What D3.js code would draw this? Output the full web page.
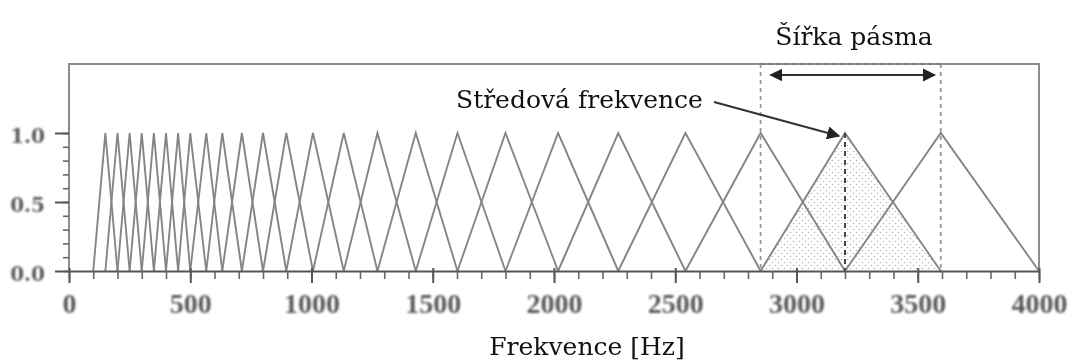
<!DOCTYPE html>
<html>
<head>
<meta charset="utf-8">
<script src="https://cdn.jsdelivr.net/npm/d3@7"></script>
<style>
  html, body { margin: 0; padding: 0; background: #fff; }
  svg { display: block; }
</style>
</head>
<body>
<svg id="chart" width="1069" height="363"></svg>
<script>
// Triangular filter bank: filter k rises from filterEdges[k], peaks at filterEdges[k+1], falls to filterEdges[k+2]
const filterEdges = [100, 150, 200, 250, 300, 350, 400, 450, 500, 566, 632, 713, 800, 896,
                     1006, 1133, 1272, 1430, 1602, 1800, 2017, 2265, 2542, 2852, 3200, 3595, 4000];
const peakGain = 1.0;
const highlightCenter = 3200;          // filter whose band is shaded
const xMajorTicks = [0, 500, 1000, 1500, 2000, 2500, 3000, 3500, 4000];
const yMajorTicks = [0.0, 0.5, 1.0];
const yTickLabels = ["0.0", "0.5", "1.0"];
const xTitle = "Frekvence [Hz]";
const centerLabel = "Středová frekvence";
const bandLabel = "Šířka pásma";

const W = 1069, H = 363;
const margin = { top: 64, right: 30, bottom: 92, left: 69 };
const svg = d3.select("#chart");

const x = d3.scaleLinear().domain([0, 4000]).range([margin.left, W - margin.right]);
const y = d3.scaleLinear().domain([0, 1.5]).range([H - margin.bottom, margin.top]);

const xTickFont = "'Liberation Serif', 'Times New Roman', serif";
const yTickFont = "'DejaVu Serif', serif";
const textFont = "'DejaVu Serif', serif";

const defs = svg.append("defs");
defs.append("filter").attr("id", "soft")
  .append("feGaussianBlur").attr("stdDeviation", 0.55);
defs.append("filter").attr("id", "softer")
  .append("feGaussianBlur").attr("stdDeviation", 0.9);
const pat = defs.append("pattern").attr("id", "stipple")
  .attr("patternUnits", "userSpaceOnUse").attr("width", 6).attr("height", 6);
pat.append("circle").attr("cx", 1.5).attr("cy", 1.5).attr("r", 0.8).attr("fill", "#b8b8b8");
pat.append("circle").attr("cx", 4.5).attr("cy", 4.5).attr("r", 0.8).attr("fill", "#b8b8b8");

const plot = svg.append("g").attr("filter", "url(#soft)");

// filters as triples
const filters = d3.range(filterEdges.length - 2).map(k => ({
  lo: filterEdges[k], c: filterEdges[k + 1], hi: filterEdges[k + 2]
}));
const hl = filters.find(f => f.c === highlightCenter);

// shaded band of the highlighted filter
plot.append("path")
  .attr("d", d3.line()([[x(hl.lo), y(0)], [x(hl.c), y(peakGain)], [x(hl.hi), y(0)]]) + "Z")
  .attr("fill", "url(#stipple)");

// frame (left, top, right)
plot.append("path")
  .attr("d", `M${x(0)},${y(0)}V${y(1.5)}H${x(4000)}V${y(0)}`)
  .attr("fill", "none").attr("stroke", "#8c8c8c").attr("stroke-width", 2);

// triangles
const tri = d3.line().x(d => x(d[0])).y(d => y(d[1]));
plot.selectAll("path.tri").data(filters).join("path")
  .attr("class", "tri")
  .attr("d", f => tri([[f.lo, 0], [f.c, peakGain], [f.hi, 0]]))
  .attr("fill", "none").attr("stroke", "#858585").attr("stroke-width", 1.9)
  .attr("stroke-linejoin", "miter");

// band edges (dashed) and centre line
plot.selectAll("line.edge").data([hl.lo, hl.hi]).join("line")
  .attr("class", "edge")
  .attr("x1", d => x(d)).attr("x2", d => x(d))
  .attr("y1", y(1.5)).attr("y2", y(0))
  .attr("stroke", "#9a9a9a").attr("stroke-width", 1.8).attr("stroke-dasharray", "4,4");
plot.append("line")
  .attr("x1", x(hl.lo)).attr("x2", x(hl.hi))
  .attr("y1", y(1.5)).attr("y2", y(1.5))
  .attr("stroke", "#777").attr("stroke-width", 1.8).attr("stroke-dasharray", "4,4");
plot.append("line")
  .attr("x1", x(hl.c)).attr("x2", x(hl.c))
  .attr("y1", y(peakGain)).attr("y2", y(0))
  .attr("stroke", "#444").attr("stroke-width", 2).attr("stroke-dasharray", "5,4");

// x axis: minor ticks every 100 Hz, major every 500 Hz
const xMinor = d3.axisBottom(x).tickValues(d3.range(0, 4001, 100)).tickSize(8).tickSizeOuter(0).tickFormat("");
const gxm = plot.append("g").attr("transform", `translate(0,${y(0)})`).call(xMinor);
gxm.select(".domain").attr("stroke", "#555").attr("stroke-width", 2);
gxm.selectAll(".tick line").attr("stroke", "#666").attr("stroke-width", 1.6);

const xMajor = d3.axisBottom(x).tickValues(xMajorTicks).tickSize(12).tickPadding(10).tickFormat(d3.format("d"));
const gx = plot.append("g").attr("transform", `translate(0,${y(0)})`).call(xMajor);
gx.select(".domain").remove();
gx.selectAll(".tick line").attr("y1", -3).attr("stroke", "#555").attr("stroke-width", 2);
gx.selectAll(".tick text")
  .attr("font-family", xTickFont).attr("font-size", 28).attr("fill", "#5a5a5a")
  .attr("font-weight", "bold").attr("filter", "url(#softer)");

// y axis: minor ticks every 0.1, major every 0.5
const yMinor = d3.axisLeft(y).tickValues(d3.range(0, 11).map(i => i / 10)).tickSize(6).tickSizeOuter(0).tickFormat("");
const gym = plot.append("g").attr("transform", `translate(${x(0)},0)`).call(yMinor);
gym.select(".domain").remove();
gym.selectAll(".tick line").attr("stroke", "#666").attr("stroke-width", 1.6);

const yMajor = d3.axisLeft(y).tickValues(yMajorTicks).tickSize(14).tickPadding(10)
  .tickFormat((d, i) => yTickLabels[i]);
const gy = plot.append("g").attr("transform", `translate(${x(0)},0)`).call(yMajor);
gy.select(".domain").remove();
gy.selectAll(".tick line").attr("stroke", "#555").attr("stroke-width", 2);
gy.selectAll(".tick text")
  .attr("font-family", yTickFont).attr("font-size", 20).attr("fill", "#5a5a5a")
  .attr("font-weight", "bold").attr("dy", "0.45em").attr("filter", "url(#softer)");

// axis title
svg.append("text")
  .attr("x", 587).attr("y", 355)
  .attr("text-anchor", "middle")
  .attr("font-family", textFont).attr("font-size", 25).attr("fill", "#111")
  .text(xTitle);

// annotations
defs.append("marker").attr("id", "head")
  .attr("viewBox", "0 0 10 10").attr("refX", 9).attr("refY", 5)
  .attr("markerWidth", 6).attr("markerHeight", 6).attr("markerUnits", "strokeWidth")
  .attr("orient", "auto-start-reverse")
  .append("path").attr("d", "M0,0L10,5L0,10Z").attr("fill", "#222");

svg.append("text")
  .attr("x", 456).attr("y", 108)
  .attr("font-family", textFont).attr("font-size", 25).attr("fill", "#111")
  .text(centerLabel);
svg.append("path")
  .attr("d", `M714,102L${x(hl.c) - 6},${y(peakGain) + 3}`)
  .attr("stroke", "#333").attr("stroke-width", 2.2).attr("fill", "none")
  .attr("marker-end", "url(#head)");

svg.append("text")
  .attr("x", 854).attr("y", 45)
  .attr("text-anchor", "middle")
  .attr("font-family", textFont).attr("font-size", 25).attr("fill", "#111")
  .text(bandLabel);
svg.append("path")
  .attr("d", `M${x(hl.lo) + 10},75H${x(hl.hi) - 6}`)
  .attr("stroke", "#333").attr("stroke-width", 2.2).attr("fill", "none")
  .attr("marker-start", "url(#head)").attr("marker-end", "url(#head)");
</script>
</body>
</html>
